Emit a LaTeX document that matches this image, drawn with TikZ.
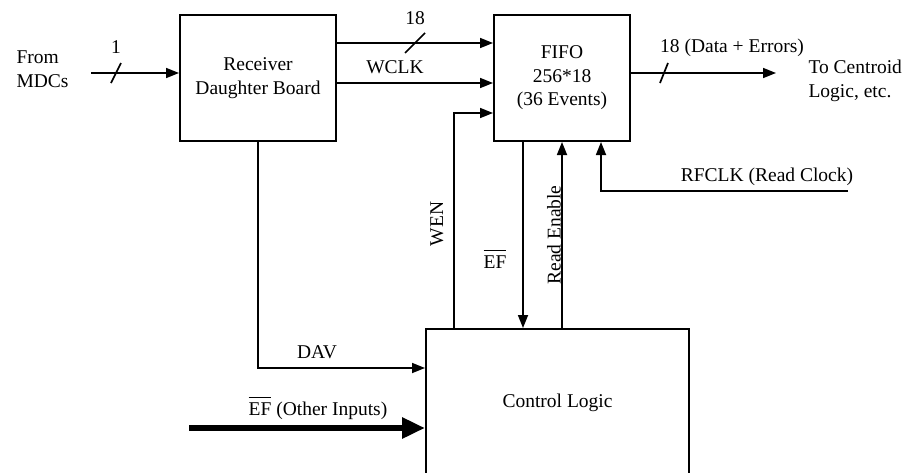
\documentclass[tikz,border=0pt]{standalone}
\usepackage{fontspec}
\setmainfont{Liberation Serif}
\usetikzlibrary{arrows.meta,calc,positioning}

\newcommand{\efbar}{\(\overline{\mbox{EF}\rule{0pt}{17pt}}\)}

\begin{document}
\begin{tikzpicture}[x=1pt,y=-1pt,>={Triangle[length=13pt,width=10pt]},
    font=\fontsize{19.5}{23.5}\selectfont,
    blk/.style={draw,line width=2pt,inner sep=0pt,align=center},
    wire/.style={line width=1.7pt},
    bigwire/.style={line width=6pt,-{Triangle[length=23pt,width=20pt]}}]
    \useasboundingbox (0,0) rectangle (904,472);
    \clip (0,0) rectangle (904,472);

    \node[blk,minimum width=156pt,minimum height=126pt] (rdb) at (258,78) {Receiver\\Daughter Board};
    \node[blk,minimum width=136pt,minimum height=126pt] (fifo) at (562,78) {FIFO\\256*18\\(36 Events)};
    \node[blk,minimum width=263pt,minimum height=148pt] (ctrl) at (557.5,403) {Control Logic};

    \node[align=left,anchor=west] (src) at (13,69) {From\\MDCs};
    \node[align=left,anchor=west] (dst) at (805,81) {To Centroid\\Logic, etc.};

    \coordinate (mdc) at (91,73);
    \coordinate (out) at (776,73);
    \coordinate (rclk) at (848,191);
    \coordinate (oth) at (189,428);

    % data path
    \draw[wire,->] (mdc) -- (rdb.west |- mdc);
    \draw[wire] (111,83) -- (121,63);
    \node (w1) at (116,47) {1};
    \draw[wire,->] (rdb.east |- 0,43) -- (fifo.west |- 0,43);
    \draw[wire] (405,53) -- (425,33);
    \node (w18) at (415,18) {18};
    \draw[wire,->] (rdb.east |- 0,83) -- (fifo.west |- 0,83);
    \node (wclk) at (395,67) {WCLK};
    \draw[wire,->] (fifo.east |- out) -- (out);
    \draw[wire] (660,83) -- (668,63);
    \node (wout) at (732,48) {18 (Data + Errors)};

    % control
    \draw[wire,->] (ctrl.north -| 454,0) |- (fifo.west |- 0,113);
    \node[rotate=90] (wen) at (437,224) {WEN};
    \draw[wire,->] (fifo.south -| 523,0) -- (ctrl.north -| 523,0);
    \node (ef) at (495,259) {\efbar};
    \draw[wire,->] (ctrl.north -| fifo.south) -- (fifo.south);
    \node[rotate=90] (ren) at (554,235) {Read Enable};
    \draw[wire,->] (rclk) -| (fifo.south -| 601,0);
    \node (rfclk) at (767,177) {RFCLK (Read Clock)};
    \draw[wire,->] (rdb.south) |- (ctrl.west |- 0,368);
    \node (dav) at (317,352) {DAV};
    \draw[bigwire] (oth) -- (ctrl.west |- oth);
    \node (othl) at (318,408) {\efbar{} (Other Inputs)};
  \end{tikzpicture}
\end{document}
